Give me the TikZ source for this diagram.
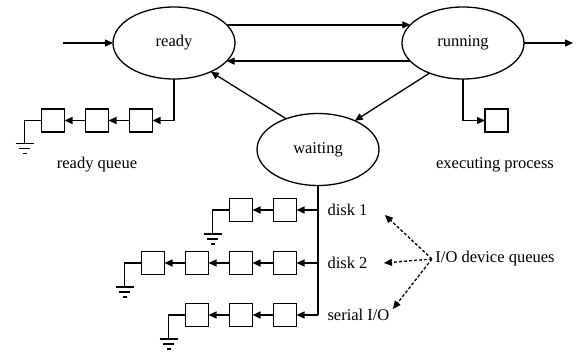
\documentclass[tikz,border=0pt]{standalone}
\usepackage{fontspec}
\setmainfont{Liberation Serif}
\usetikzlibrary{shapes, positioning, arrows.meta}
\tikzset{
  state/.style={
    ellipse,
    draw=black, line width=1.3pt,
    minimum width=122pt,
    minimum height=72pt,
    inner sep=0pt, outer sep=0pt
  },
  pcb/.style={
    rectangle,
    draw=black, line width=1.3pt,
    minimum size=23pt,
    inner sep=0pt, outer sep=0pt
  },
  arrow/.style={
    draw=black,
    line width=1.3pt,
    -{Triangle[length=8pt,width=7pt]}
  },
  wire/.style={
    draw=black,
    line width=1.3pt
  },
  hint/.style={
    draw=black,
    line width=1.3pt,
    dash pattern=on 3pt off 2pt,
    -{Triangle[length=8pt,width=7pt]}
  },
  ground/.pic={
    \draw[line width=1.3pt] (-9,0) -- (9,0);
    \draw[line width=1.3pt] (-5.5,5) -- (5.5,5);
    \draw[line width=1.3pt] (-2,10) -- (2,10);
  }
}

\begin{document}
\begin{tikzpicture}[x=1pt, y=-1pt, font=\fontsize{16.5}{20}\selectfont]
\useasboundingbox (0,0) rectangle (584,351);

% states
\node[state] (ready) at (174,43) {ready};
\node[state] (running) at (463,43) {running};
\node[state] (waiting) at (318,149.5) {waiting};

% transitions
\coordinate (in) at (63,43);
\coordinate (out) at (573,43);
\draw [arrow] (in) -- (ready.west);
\draw [arrow] (running.east) -- (out);
\draw [arrow] (ready.19) -- (running.161);
\draw [arrow] (running.199) -- (ready.-19);
\draw [arrow] (running.222) -- (waiting.38);
\draw [arrow] (waiting.136) -- (ready.-38);

%% ready queue
\node[pcb] (rq3) at (141,120.5) {};
\node[pcb, left=21pt of rq3] (rq2) {};
\node[pcb, left=21pt of rq2] (rq1) {};
\draw [arrow] (ready.south) |- (rq3.east);
\draw [arrow] (rq3.west) -- (rq2.east);
\draw [arrow] (rq2.west) -- (rq1.east);
\coordinate[left=17pt of rq1.west] (g0);
\coordinate[below=23pt of g0] (g0e);
\draw [wire] (rq1.west) -- (g0) -- (g0e);
\pic at (g0e) {ground};
\node (rqlabel) at (97,165) {ready queue};

%% executing
\node[pcb] (exec) at (496.5,120.5) {};
\draw [arrow] (running.south) |- (exec.west);
\node (exlabel) at (495,165) {executing process};

%% device queues
\node[pcb] (d1a) at (285,210) {};
\node[pcb, left=21pt of d1a] (d1b) {};

\node[pcb] (d2a) at (285,263) {};
\node[pcb, left=21pt of d2a] (d2b) {};
\node[pcb, left=21pt of d2b] (d2c) {};
\node[pcb, left=21pt of d2c] (d2d) {};

\node[pcb] (s1a) at (285,315) {};
\node[pcb, left=21pt of s1a] (s1b) {};
\node[pcb, left=21pt of s1b] (s1c) {};

\coordinate (j1) at (waiting.south |- d1a);
\coordinate (j2) at (waiting.south |- d2a);
\coordinate (j3) at (waiting.south |- s1a);
\draw [wire] (waiting.south) -- (j3);

\draw [arrow] (j1) -- (d1a.east);
\draw [arrow] (d1a.west) -- (d1b.east);
\coordinate[left=17pt of d1b.west] (g1);
\coordinate[below=24pt of g1] (g1e);
\draw [wire] (d1b.west) -- (g1) -- (g1e);
\pic at (g1e) {ground};

\draw [arrow] (j2) -- (d2a.east);
\draw [arrow] (d2a.west) -- (d2b.east);
\draw [arrow] (d2b.west) -- (d2c.east);
\draw [arrow] (d2c.west) -- (d2d.east);
\coordinate[left=17pt of d2d.west] (g2);
\coordinate[below=24pt of g2] (g2e);
\draw [wire] (d2d.west) -- (g2) -- (g2e);
\pic at (g2e) {ground};

\draw [arrow] (j3) -- (s1a.east);
\draw [arrow] (s1a.west) -- (s1b.east);
\draw [arrow] (s1b.west) -- (s1c.east);
\coordinate[left=17pt of s1c.west] (g3);
\coordinate[below=24pt of g3] (g3e);
\draw [wire] (s1c.west) -- (g3) -- (g3e);
\pic at (g3e) {ground};

\node[right=6pt of j1] (disk1) {disk 1};
\node[right=6pt of j2] (disk2) {disk 2};
\node[right=6pt of j3] (serial) {serial I/O};

%% labels for the queues
\node (io) at (495,259) {I/O device queues};
\coordinate[xshift=14pt, yshift=-5pt] (t1) at (disk1.east);
\coordinate[xshift=13pt] (t2) at (disk2.east);
\coordinate[yshift=6pt] (t3) at (serial.east);
\draw [hint] (io.west) -- (t1);
\draw [hint] (io.west) -- (t2);
\draw [hint] (io.west) -- (t3);

\end{tikzpicture}
\end{document}
